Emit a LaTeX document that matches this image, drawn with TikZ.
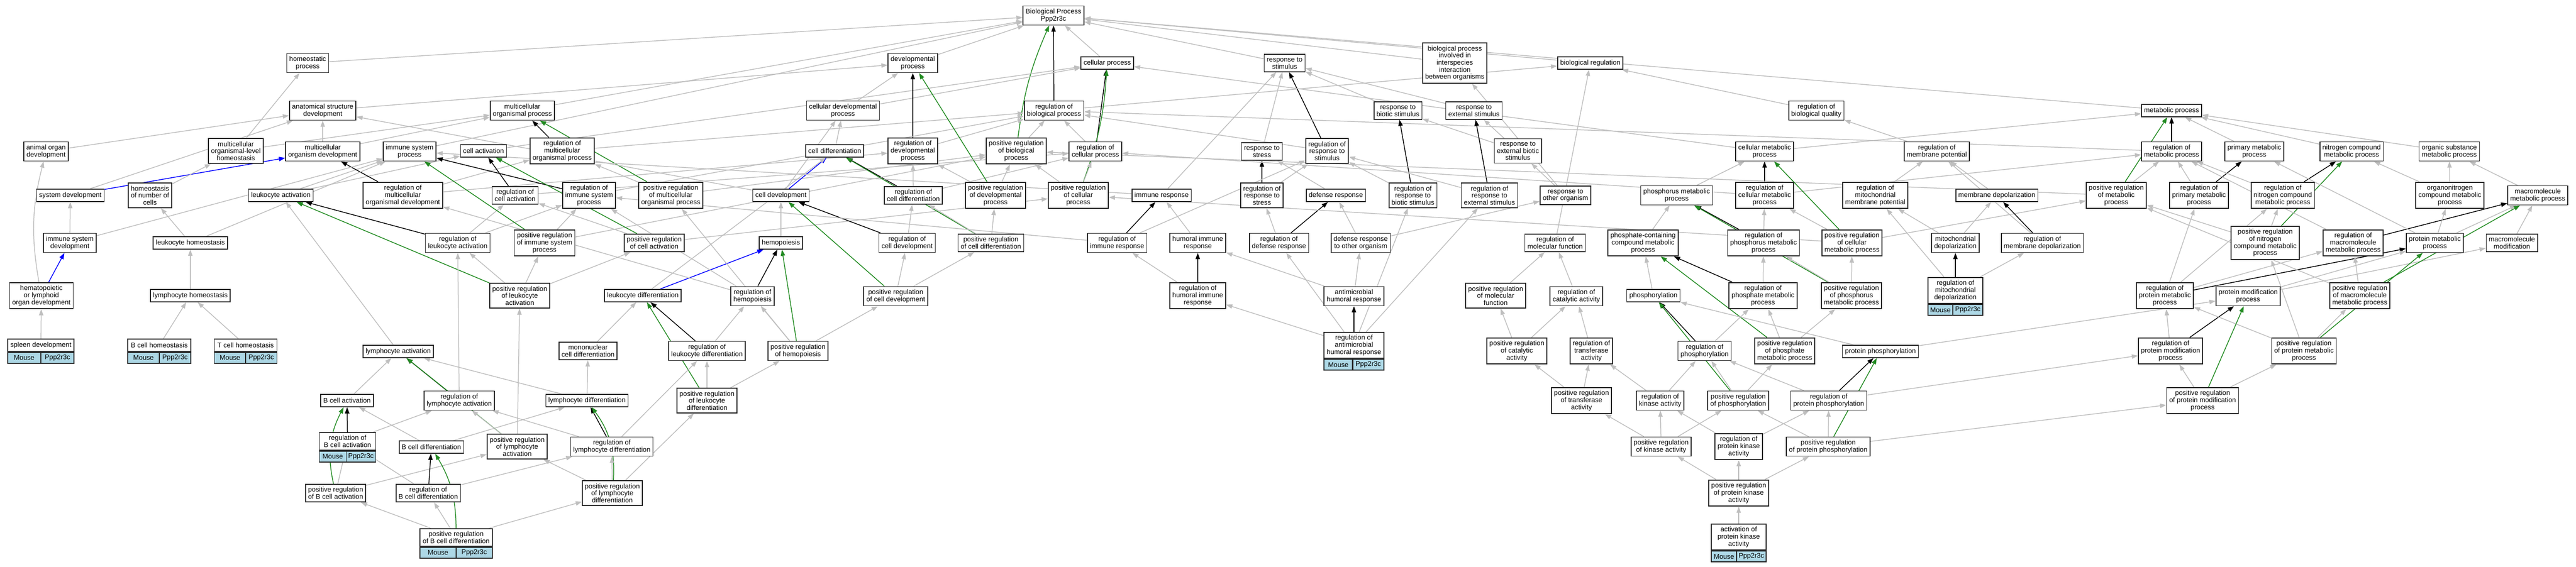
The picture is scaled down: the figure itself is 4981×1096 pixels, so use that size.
\documentclass[tikz,border=0pt]{standalone}
\usepackage{fontspec}
\setmainfont{Liberation Sans}
\usepackage{tikz}
\usetikzlibrary{arrows.meta, positioning}
\definecolor{lightblue}{RGB}{173,216,230}
\definecolor{forestgreen}{RGB}{34,139,34}
\pgfdeclarelayer{back}
\pgfsetlayers{back,main}

\begin{document}
\begin{tikzpicture}[x=0.02cm, y=-0.02cm, font=\fontsize{7.5}{7.8}\selectfont,
  term/.style={draw=black!85, line width=0.035cm, fill=white, align=center, inner xsep=0.1cm, inner ysep=0.11cm, minimum height=0.48cm},
  gene/.style={draw=black!85, line width=0.035cm, fill=lightblue, inner sep=0pt, minimum height=0.42cm},
  isa/.style={draw=gray!50, line width=0.03cm, -{Triangle[length=0.24cm, width=0.17cm]}},
  regs/.style={isa, draw=black},
  posreg/.style={isa, draw=forestgreen},
  partof/.style={isa, draw=blue}]
\useasboundingbox (0,0) rectangle (4981,1096);

% Raiz
\node[term] (bp) at (2037,30) {Biological Process\\Ppp2r3c};

% Nivel 1
\node[term] (hp) at (595,122) {homeostatic\\process};
\node[term] (dp) at (1765,122) {developmental\\process};
\node[term] (cp) at (2141,122) {cellular process};
\node[term] (rs) at (2484,122) {response to\\stimulus};
\node[term] (bpi) at (2813,122) {biological process\\involved in\\interspecies\\interaction\\between organisms};
\node[term] (br) at (3075,122) {biological regulation};

% Nivel 2
\node[term] (asd) at (624,214) {anatomical structure\\development};
\node[term] (mop) at (1010,214) {multicellular\\organismal process};
\node[term] (cdp) at (1630,214) {cellular developmental\\process};
\node[term] (rbp) at (2038,214) {regulation of\\biological process};
\node[term] (rbs) at (2703,214) {response to\\biotic stimulus};
\node[term] (res) at (2850,214) {response to\\external stimulus};
\node[term] (rbq) at (3512,214) {regulation of\\biological quality};
\node[term] (mp) at (4199,214) {metabolic process};

% Nivel 3
\node[term] (aod) at (89,293) {animal organ\\development};
\node[term] (mlh) at (456,292) {multicellular\\organismal-level\\homeostasis};
\node[term] (mod) at (624,293) {multicellular\\organism development};
\node[term] (isp) at (792,293) {immune system\\process};
\node[term] (ca) at (935,292) {cell activation};
\node[term] (rmop) at (1087,292) {regulation of\\multicellular\\organismal process};
\node[term] (cdiff) at (1614,292) {cell differentiation};
\node[term] (rdp) at (1765,292) {regulation of\\developmental\\process};
\node[term] (prbp) at (1965,292) {positive regulation\\of biological\\process};
\node[term] (rcp) at (2118,293) {regulation of\\cellular process};
\node[term] (rst) at (2440,293) {response to\\stress};
\node[term] (rrs) at (2566,292) {regulation of\\response to\\stimulus};
\node[term] (rebs) at (2935,292) {response to\\external biotic\\stimulus};
\node[term] (cmp) at (3412,293) {cellular metabolic\\process};
\node[term] (rmpot) at (3745,293) {regulation of\\membrane potential};
\node[term] (rmp) at (4199,293) {regulation of\\metabolic process};
\node[term] (pmp) at (4359,293) {primary metabolic\\process};
\node[term] (ncmp) at (4547,293) {nitrogen compound\\metabolic process};
\node[term] (osmp) at (4736,293) {organic substance\\metabolic process};

% Nivel 4
\node[term] (sd) at (136,378) {system development};
\node[term] (hnc) at (290,378) {homeostasis\\of number of\\cells};
\node[term] (la) at (543,378) {leukocyte activation};
\node[term] (rmod) at (779,378) {regulation of\\multicellular\\organismal development};
\node[term] (rca) at (996,378) {regulation of\\cell activation};
\node[term] (risp) at (1139,378) {regulation of\\immune system\\process};
\node[term] (prmop) at (1297,378) {positive regulation\\of multicellular\\organismal process};
\node[term] (cdev) at (1510,378) {cell development};
\node[term] (rcdiff) at (1766,378) {regulation of\\cell differentiation};
\node[term] (prdp) at (1925,378) {positive regulation\\of developmental\\process};
\node[term] (prcp) at (2085,378) {positive regulation\\of cellular\\process};
\node[term] (ir) at (2246,378) {immune response};
\node[term] (rrst) at (2440,378) {regulation of\\response to\\stress};
\node[term] (dr) at (2583,378) {defense response};
\node[term] (rrbs) at (2732,378) {regulation of\\response to\\biotic stimulus};
\node[term] (rres) at (2880,378) {regulation of\\response to\\external stimulus};
\node[term] (roo) at (3027,378) {response to\\other organism};
\node[term] (phmp) at (3242,378) {phosphorus metabolic\\process};
\node[term] (rcmp) at (3412,378) {regulation of\\cellular metabolic\\process};
\node[term] (rmmp) at (3626,378) {regulation of\\mitochondrial\\membrane potential};
\node[term] (md) at (3861,378) {membrane depolarization};
\node[term] (prmp) at (4092,378) {positive regulation\\of metabolic\\process};
\node[term] (rpmp) at (4252,378) {regulation of\\primary metabolic\\process};
\node[term] (rncmp) at (4414,378) {regulation of\\nitrogen compound\\metabolic process};
\node[term] (oncmp) at (4737,378) {organonitrogen\\compound metabolic\\process};
\node[term] (mmp) at (4907,378) {macromolecule\\metabolic process};

% Nivel 5
\node[term] (isd) at (135,470) {immune system\\development};
\node[term] (loh) at (368,470) {leukocyte homeostasis};
\node[term] (rla) at (885,470) {regulation of\\leukocyte activation};
\node[term] (prisp) at (1053,470) {positive regulation\\of immune system\\process};
\node[term] (prca) at (1265,470) {positive regulation\\of cell activation};
\node[term] (hem) at (1510,470) {hemopoiesis};
\node[term] (rcdev) at (1754,470) {regulation of\\cell development};
\node[term] (prcdiff) at (1916,470) {positive regulation\\of cell differentiation};
\node[term] (rir) at (2160,470) {regulation of\\immune response};
\node[term] (hir) at (2316,470) {humoral immune\\response};
\node[term] (rdr) at (2473,470) {regulation of\\defense response};
\node[term] (droo) at (2631,470) {defense response\\to other organism};
\node[term] (rmf) at (3007,470) {regulation of\\molecular function};
\node[term] (pccmp) at (3177,470) {phosphate-containing\\compound metabolic\\process};
\node[term] (rphmp) at (3410,470) {regulation of\\phosphorus metabolic\\process};
\node[term] (prcmp) at (3581,470) {positive regulation\\of cellular\\metabolic process};
\node[term] (mdep) at (3781,470) {mitochondrial\\depolarization};
\node[term] (rmd) at (3949,470) {regulation of\\membrane depolarization};
\node[term] (prncmp) at (4380,470) {positive regulation\\of nitrogen\\compound metabolic\\process};
\node[term] (rmacmp) at (4550,470) {regulation of\\macromolecule\\metabolic process};
\node[term] (prmetp) at (4708,470) {protein metabolic\\process};
\node[term] (mmod) at (4857,470) {macromolecule\\modification};

% Nivel 6
\node[term] (hlod) at (80,572) {hematopoietic\\or lymphoid\\organ development};
\node[term] (lyh) at (368,572) {lymphocyte homeostasis};
\node[term] (prla) at (1005,572) {positive regulation\\of leukocyte\\activation};
\node[term] (ld) at (1243,572) {leukocyte differentiation};
\node[term] (rh) at (1455,573) {regulation of\\hemopoiesis};
\node[term] (prcdev) at (1732,573) {positive regulation\\of cell development};
\node[term] (rhir) at (2316,572) {regulation of\\humoral immune\\response};
\node[term] (amhr) at (2618,573) {antimicrobial\\humoral response};
\node[term] (prmf) at (2892,572) {positive regulation\\of molecular\\function};
\node[term] (rcata) at (3048,573) {regulation of\\catalytic activity};
\node[term] (phos) at (3197,572) {phosphorylation};
\node[term] (rphamp) at (3409,572) {regulation of\\phosphate metabolic\\process};
\node[term] (prphmp) at (3580,572) {positive regulation\\of phosphorus\\metabolic process};
\node[term, minimum width=2.12cm] (rmdep) at (3781,562) {regulation of\\mitochondrial\\depolarization};
\node[term] (rprmp) at (4186,572) {regulation of\\protein metabolic\\process};
\node[term] (pmodp) at (4347,573) {protein modification\\process};
\node[term] (prmacmp) at (4563,572) {positive regulation\\of macromolecule\\metabolic process};

% Nivel 7
\node[term, minimum width=2.54cm] (spd) at (79,668) {spleen development};
\node[term, minimum width=2.44cm] (bch) at (308,668) {B cell homeostasis};
\node[term, minimum width=2.42cm] (tch) at (475,668) {T cell homeostasis};
\node[term] (lya) at (770,680) {lymphocyte activation};
\node[term] (mcd) at (1137,679) {mononuclear\\cell differentiation};
\node[term] (rld) at (1367,679) {regulation of\\leukocyte differentiation};
\node[term] (prh) at (1543,679) {positive regulation\\of hemopoiesis};
\node[term, minimum width=2.3cm] (ramhr) at (2618,668) {regulation of\\antimicrobial\\humoral response};
\node[term] (prcata) at (2933,679) {positive regulation\\of catalytic\\activity};
\node[term] (rta) at (3077,679) {regulation of\\transferase\\activity};
\node[term] (rphos) at (3296,679) {regulation of\\phosphorylation};
\node[term] (prphamp) at (3451,679) {positive regulation\\of phosphate\\metabolic process};
\node[term] (pphos) at (3636,680) {protein phosphorylation};
\node[term] (rpmodp) at (4197,679) {regulation of\\protein modification\\process};
\node[term] (prprmp) at (4455,679) {positive regulation\\of protein metabolic\\process};

% Nivel 8
\node[term] (bca) at (671,775) {B cell activation};
\node[term] (rlya) at (888,775) {regulation of\\lymphocyte activation};
\node[term] (lyd) at (1135,775) {lymphocyte differentiation};
\node[term] (prld) at (1367,775) {positive regulation\\of leukocyte\\differentiation};
\node[term] (prta) at (3058,775) {positive regulation\\of transferase\\activity};
\node[term] (rka) at (3210,775) {regulation of\\kinase activity};
\node[term] (prphos) at (3361,775) {positive regulation\\of phosphorylation};
\node[term] (rpphos) at (3536,775) {regulation of\\protein phosphorylation};
\node[term] (prpmodp) at (4259,775) {positive regulation\\of protein modification\\process};

% Nivel 9
\node[term, minimum width=2.18cm] (rbca) at (672,854) {regulation of\\B cell activation};
\node[term] (bcd) at (834,865) {B cell differentiation};
\node[term] (prlya) at (1000,864) {positive regulation\\of lymphocyte\\activation};
\node[term] (rlyd) at (1183,864) {regulation of\\lymphocyte differentiation};
\node[term] (prka) at (3212,864) {positive regulation\\of kinase activity};
\node[term] (rpka) at (3362,864) {regulation of\\protein kinase\\activity};
\node[term] (prpphos) at (3535,864) {positive regulation\\of protein phosphorylation};

% Nivel 10
\node[term] (prbca) at (649,954) {positive regulation\\of B cell activation};
\node[term] (rbcd) at (828,954) {regulation of\\B cell differentiation};
\node[term] (prlyd) at (1184,954) {positive regulation\\of lymphocyte\\differentiation};
\node[term] (prpka) at (3362,954) {positive regulation\\of protein kinase\\activity};

% Nivel 11
\node[term, minimum width=2.8cm] (prbcd) at (882,1040) {positive regulation\\of B cell differentiation};
\node[term, minimum width=2.12cm] (apka) at (3362,1039) {activation of\\protein kinase\\activity};

% Anotaciones del gen
\node[gene, minimum width=1.27cm, anchor=north west] (spd-m) at (spd.south west) {Mouse};
\node[gene, minimum width=1.27cm, anchor=north east] (spd-g) at (spd.south east) {Ppp2r3c};
\node[gene, minimum width=1.22cm, anchor=north west] (bch-m) at (bch.south west) {Mouse};
\node[gene, minimum width=1.22cm, anchor=north east] (bch-g) at (bch.south east) {Ppp2r3c};
\node[gene, minimum width=1.21cm, anchor=north west] (tch-m) at (tch.south west) {Mouse};
\node[gene, minimum width=1.21cm, anchor=north east] (tch-g) at (tch.south east) {Ppp2r3c};
\node[gene, minimum width=1.04cm, anchor=north west] (rbca-m) at (rbca.south west) {Mouse};
\node[gene, minimum width=1.14cm, anchor=north east] (rbca-g) at (rbca.south east) {Ppp2r3c};
\node[gene, minimum width=1.4cm, anchor=north west] (prbcd-m) at (prbcd.south west) {Mouse};
\node[gene, minimum width=1.4cm, anchor=north east] (prbcd-g) at (prbcd.south east) {Ppp2r3c};
\node[gene, minimum width=1.1cm, anchor=north west] (ramhr-m) at (ramhr.south west) {Mouse};
\node[gene, minimum width=1.2cm, anchor=north east] (ramhr-g) at (ramhr.south east) {Ppp2r3c};
\node[gene, minimum width=0.96cm, anchor=north west] (rmdep-m) at (rmdep.south west) {Mouse};
\node[gene, minimum width=1.16cm, anchor=north east] (rmdep-g) at (rmdep.south east) {Ppp2r3c};
\node[gene, minimum width=0.98cm, anchor=north west] (apka-m) at (apka.south west) {Mouse};
\node[gene, minimum width=1.14cm, anchor=north east] (apka-g) at (apka.south east) {Ppp2r3c};

\begin{pgfonlayer}{back}
% Relaciones hacia la raiz
\path (hp) edge[isa] (bp);
\path (dp) edge[isa] (bp);
\path (cp) edge[isa] (bp);
\path (rs) edge[isa] (bp);
\path (bpi) edge[isa] (bp);
\path (br) edge[isa] (bp);
\path (mp) edge[isa] (bp);
\path (isp) edge[isa] (bp);
\path (mop) edge[isa] (bp);
\path (rbp) edge[regs] (bp) edge[isa] (br);
\path (prbp) edge[posreg, bend left=8] (bp) edge[isa] (rbp);

% Niveles superiores
\path (asd) edge[isa] (dp);
\path (cdp) edge[isa] (dp) edge[isa] (cp);
\path (rbs) edge[isa] (rs);
\path (res) edge[isa] (rs);
\path (rbq) edge[isa] (br);
\path (aod) edge[isa] (asd);
\path (mlh) edge[isa] (hp) edge[isa] (mop);
\path (mod) edge[isa] (asd) edge[isa] (mop);
\path (ca) edge[isa] (cp);
\path (rmop) edge[regs] (mop) edge[isa] (rbp);
\path (cdiff) edge[isa] (cdp);
\path (rdp) edge[regs] (dp) edge[isa] (rbp);
\path (rcp) edge[regs] (cp) edge[isa] (rbp);
\path (rst) edge[isa] (rs);
\path (rrs) edge[regs] (rs) edge[isa] (rbp);
\path (rebs) edge[isa] (res) edge[isa] (rbs);
\path (cmp) edge[isa] (mp) edge[isa] (cp);
\path (rmpot) edge[isa] (rbq);
\path (rmp) edge[regs] (mp) edge[isa] (rbp);
\path (pmp) edge[isa] (mp);
\path (ncmp) edge[isa] (mp);
\path (osmp) edge[isa] (mp);

% Nivel 4
\path (sd) edge[isa] (asd) edge[partof] (mod);
\path (hnc) edge[isa] (mlh);
\path (la) edge[isa] (ca) edge[isa] (isp);
\path (rmod) edge[regs] (mod) edge[isa] (rdp) edge[isa] (rmop);
\path (rca) edge[regs] (ca) edge[isa] (rcp);
\path (risp) edge[regs] (isp) edge[isa] (rbp);
\path (prmop) edge[posreg] (mop) edge[isa] (rmop) edge[isa] (prbp);
\path (cdev) edge[partof] (cdiff) edge[isa] (cdp) edge[isa] (asd);
\path (rcdiff) edge[regs] (cdiff) edge[isa] (rdp) edge[isa] (rcp);
\path (prdp) edge[posreg] (dp) edge[isa] (rdp) edge[isa] (prbp);
\path (prcp) edge[posreg, bend right=8] (cp) edge[isa] (rcp) edge[isa] (prbp);
\path (ir) edge[isa] (isp) edge[isa] (rs);
\path (rrst) edge[regs] (rst) edge[isa] (rrs);
\path (dr) edge[isa] (rst);
\path (rrbs) edge[regs] (rbs) edge[isa] (rrs);
\path (rres) edge[regs] (res) edge[isa] (rrs);
\path (roo) edge[isa] (rebs) edge[isa] (bpi);
\path (phmp) edge[isa] (cmp);
\path (rcmp) edge[regs] (cmp) edge[isa] (rcp) edge[isa] (rmp);
\path (rmmp) edge[isa] (rmpot);
\path (md) edge[isa] (rmpot);
\path (prmp) edge[posreg] (mp) edge[isa] (rmp) edge[isa] (prbp);
\path (rpmp) edge[regs] (pmp) edge[isa] (rmp);
\path (rncmp) edge[regs] (ncmp) edge[isa] (rmp);
\path (oncmp) edge[isa] (ncmp) edge[isa] (osmp);
\path (mmp) edge[isa] (osmp);

% Nivel 5
\path (isd) edge[isa] (sd) edge[isa] (isp);
\path (loh) edge[isa] (hnc) edge[isa] (isp);
\path (rla) edge[regs] (la) edge[isa] (rca) edge[isa] (risp);
\path (prisp) edge[posreg] (isp) edge[isa] (risp) edge[isa] (prbp);
\path (prca) edge[posreg] (ca) edge[isa] (rca) edge[isa] (prcp);
\path (hem) edge[isa] (cdev);
\path (rcdev) edge[regs] (cdev) edge[isa] (rcdiff);
\path (prcdiff) edge[posreg] (cdiff) edge[isa] (rcdiff) edge[isa] (prdp);
\path (rir) edge[regs] (ir) edge[isa] (risp) edge[isa] (rrs);
\path (hir) edge[isa] (ir);
\path (rdr) edge[regs] (dr) edge[isa] (rrst);
\path (droo) edge[isa] (dr) edge[isa] (roo);
\path (rmf) edge[isa] (br);
\path (pccmp) edge[isa] (phmp);
\path (rphmp) edge[regs] (phmp) edge[isa] (rcmp);
\path (prcmp) edge[posreg] (cmp) edge[isa] (rcmp) edge[isa] (prmp) edge[isa] (prcp);
\path (mdep) edge[isa] (md) edge[isa] (rmmp);
\path (rmd) edge[regs] (md) edge[isa] (rmpot);
\path (prncmp) edge[posreg] (ncmp) edge[isa] (rncmp) edge[isa] (prmp);
\path (rmacmp) edge[regs] (mmp) edge[isa] (rmp);
\path (prmetp) edge[isa] (mmp) edge[isa] (oncmp) edge[isa] (pmp);
\path (mmod) edge[isa] (mmp);

% Nivel 6
\path (hlod) edge[isa, bend left=12] (aod) edge[partof] (isd);
\path (lyh) edge[isa] (loh);
\path (prla) edge[posreg] (la) edge[isa] (rla) edge[isa] (prisp) edge[isa] (prca);
\path (ld) edge[partof] (hem) edge[isa] (cdiff);
\path (rh) edge[regs] (hem) edge[isa] (risp) edge[isa] (rmod);
\path (prcdev) edge[posreg] (cdev) edge[isa] (rcdev) edge[isa] (prcdiff);
\path (rhir) edge[regs] (hir) edge[isa] (rir);
\path (amhr) edge[isa] (hir) edge[isa] (droo);
\path (prmf) edge[isa] (rmf);
\path (rcata) edge[isa] (rmf);
\path (phos) edge[isa] (pccmp);
\path (rphamp) edge[regs] (pccmp) edge[isa] (rphmp);
\path (prphmp) edge[posreg] (phmp) edge[isa] (rphmp) edge[isa] (prcmp);
\path (rmdep) edge[regs] (mdep) edge[isa] (rmd) edge[isa] (rmmp);
\path (rprmp) edge[regs] (prmetp) edge[isa] (rpmp) edge[isa] (rncmp) edge[isa] (rmacmp);
\path (pmodp) edge[isa] (prmetp) edge[isa] (mmod);
\path (prmacmp) edge[posreg] (mmp) edge[isa] (rmacmp) edge[isa] (prmp);

% Nivel 7
\path (spd) edge[isa] (hlod);
\path (bch) edge[isa] (lyh);
\path (tch) edge[isa] (lyh);
\path (lya) edge[isa] (la);
\path (mcd) edge[isa] (ld);
\path (rld) edge[regs] (ld) edge[isa] (rh);
\path (prh) edge[posreg] (hem) edge[isa] (rh) edge[isa] (prcdev) edge[isa] (prmop);
\path (ramhr) edge[regs] (amhr) edge[isa] (rhir) edge[isa] (rdr) edge[isa] (rrbs) edge[isa] (rres);
\path (prcata) edge[isa] (rcata) edge[isa] (prmf);
\path (rta) edge[isa] (rcata);
\path (rphos) edge[regs] (phos) edge[isa] (rphamp);
\path (prphamp) edge[posreg] (pccmp) edge[isa] (rphamp) edge[isa] (prphmp);
\path (pphos) edge[isa] (phos) edge[isa] (pmodp);
\path (rpmodp) edge[regs] (pmodp) edge[isa] (rprmp);
\path (prprmp) edge[posreg] (prmetp) edge[isa] (rprmp) edge[isa] (prmacmp) edge[isa] (prncmp);

% Nivel 8
\path (bca) edge[isa] (lya);
\path (rlya) edge[regs] (lya) edge[isa] (rla);
\path (lyd) edge[isa] (mcd) edge[isa] (lya);
\path (prld) edge[posreg] (ld) edge[isa] (rld) edge[isa] (prh);
\path (prta) edge[isa] (prcata) edge[isa] (rta);
\path (rka) edge[isa] (rta) edge[isa] (rphos);
\path (prphos) edge[posreg] (phos) edge[isa] (rphos) edge[isa] (prphamp);
\path (rpphos) edge[regs] (pphos) edge[isa] (rphos) edge[isa] (rpmodp);
\path (prpmodp) edge[posreg] (pmodp) edge[isa] (rpmodp) edge[isa] (prprmp);

% Nivel 9
\path (rbca) edge[regs] (bca) edge[isa] (rlya);
\path (bcd) edge[isa] (bca) edge[isa] (lyd);
\path (prlya) edge[posreg] (lya) edge[isa] (rlya) edge[isa] (prla);
\path (rlyd) edge[regs] (lyd) edge[isa] (rld) edge[isa] (rlya);
\path (prka) edge[isa] (prta) edge[isa] (rka) edge[isa] (prphos);
\path (rpka) edge[isa] (rka) edge[isa] (rpphos);
\path (prpphos) edge[posreg] (pphos) edge[isa] (rpphos) edge[isa] (prphos) edge[isa] (prpmodp);

% Nivel 10 y 11
\path (prbca) edge[posreg, bend left=20] (bca) edge[isa] (rbca) edge[isa] (prlya);
\path (rbcd) edge[regs] (bcd) edge[isa] (rbca) edge[isa] (rlyd);
\path (prlyd) edge[posreg, bend right=20] (lyd) edge[isa] (rlyd) edge[isa] (prlya) edge[isa] (prld);
\path (prpka) edge[isa] (prka) edge[isa] (rpka) edge[isa] (prpphos);
\path (prbcd) edge[posreg, bend right=15] (bcd) edge[isa] (prbca) edge[isa] (rbcd) edge[isa] (prlyd);
\path (apka) edge[isa] (prpka);
\end{pgfonlayer}

\end{tikzpicture}
\end{document}
